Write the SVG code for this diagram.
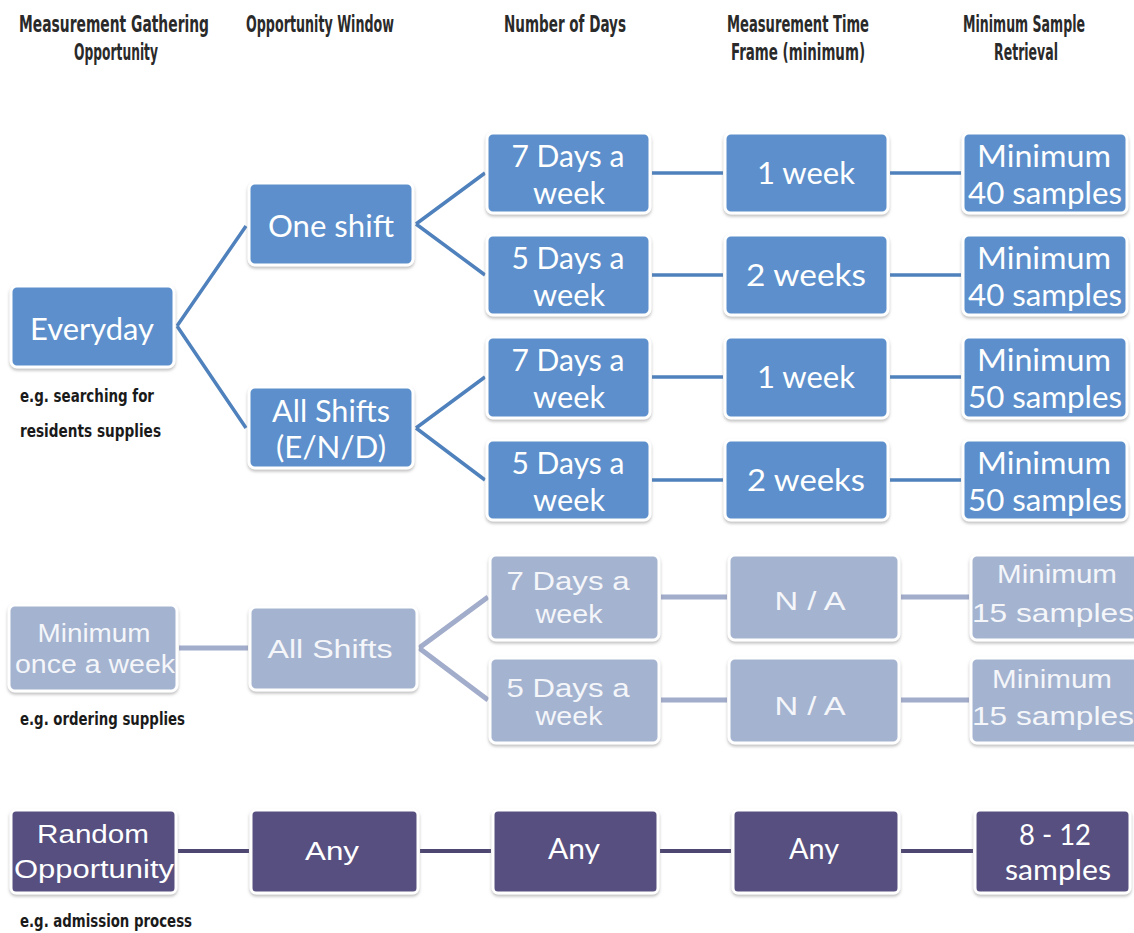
<svg xmlns="http://www.w3.org/2000/svg" width="1134" height="933" viewBox="0 0 1134 933">
<defs>
<filter id="sh" x="-10%" y="-10%" width="120%" height="130%">
<feDropShadow dx="0" dy="2" stdDeviation="1.6" flood-color="#8a8a8a" flood-opacity="0.55"/>
</filter>
<style>
.hd{font-family:"Liberation Sans Narrow","DejaVu Sans Condensed","Liberation Sans",sans-serif;font-stretch:condensed;font-weight:bold;font-size:19px;fill:#2a2a2a;text-anchor:middle}
.cap{font-family:"Liberation Sans Narrow","DejaVu Sans Condensed","Liberation Sans",sans-serif;font-stretch:condensed;font-weight:bold;font-size:15px;fill:#1a1a1a}
.b rect{fill:#5b8fcb;stroke:#ffffff;stroke-width:3;filter:url(#sh)}
.g rect{fill:#a4b3cf;stroke:#ffffff;stroke-width:3;filter:url(#sh)}
.p rect{fill:#57507f;stroke:#ffffff;stroke-width:3;filter:url(#sh)}
.b text{font-family:Lato,"Open Sans",sans-serif;font-size:31px;fill:#ffffff;text-anchor:middle}
.g text{font-family:"Liberation Sans",Arial,sans-serif;font-size:25px;fill:#f4f6fa;text-anchor:middle}
.p text{font-family:"Liberation Sans",Arial,sans-serif;font-size:26px;fill:#ffffff;text-anchor:middle}
.p text.c{font-family:Lato,"Open Sans",sans-serif;font-size:29px}
.lb{stroke:#4f81bd;stroke-width:3.5;fill:none}
.lg{stroke:#a2accb;stroke-width:5;fill:none}
.lp{stroke:#4e4772;stroke-width:4;fill:none}
</style>
</defs>
<rect width="1134" height="933" fill="#ffffff"/>

<g id="headers">
<text class="hd" transform="translate(114,32) scale(1,1.25)" textLength="190" lengthAdjust="spacingAndGlyphs">Measurement Gathering</text>
<text class="hd" transform="translate(116,60) scale(1,1.25)" textLength="84" lengthAdjust="spacingAndGlyphs">Opportunity</text>
<text class="hd" transform="translate(320,32) scale(1,1.25)" textLength="148" lengthAdjust="spacingAndGlyphs">Opportunity Window</text>
<text class="hd" transform="translate(565,32) scale(1,1.25)" textLength="122" lengthAdjust="spacingAndGlyphs">Number of Days</text>
<text class="hd" transform="translate(798,32) scale(1,1.25)" textLength="142" lengthAdjust="spacingAndGlyphs">Measurement Time</text>
<text class="hd" transform="translate(798,60) scale(1,1.25)" textLength="134" lengthAdjust="spacingAndGlyphs">Frame (minimum)</text>
<text class="hd" transform="translate(1024,32) scale(1,1.25)" textLength="122" lengthAdjust="spacingAndGlyphs">Minimum Sample</text>
<text class="hd" transform="translate(1026,60) scale(1,1.25)" textLength="64" lengthAdjust="spacingAndGlyphs">Retrieval</text>
</g>

<g id="captions">
<text class="cap" transform="translate(20,402) scale(1,1.2)" textLength="134" lengthAdjust="spacingAndGlyphs">e.g. searching for</text>
<text class="cap" transform="translate(20,437) scale(1,1.2)" textLength="141" lengthAdjust="spacingAndGlyphs">residents supplies</text>
<text class="cap" transform="translate(20,725) scale(1,1.2)" textLength="165" lengthAdjust="spacingAndGlyphs">e.g. ordering supplies</text>
<text class="cap" transform="translate(20,927) scale(1,1.2)" textLength="172" lengthAdjust="spacingAndGlyphs">e.g. admission process</text>
</g>

<g id="connectors">
<path class="lb" d="M177 326 L246 226 M177 326 L246 428"/>
<path class="lb" d="M416 224 L485 173 M416 224 L485 275"/>
<path class="lb" d="M416 428 L485 377 M416 428 L485 480"/>
<path class="lb" d="M652 173 H723 M890 173 H961"/>
<path class="lb" d="M652 275 H723 M890 275 H961"/>
<path class="lb" d="M652 377 H723 M890 377 H961"/>
<path class="lb" d="M652 480 H723 M890 480 H961"/>
<path class="lg" d="M179 648 H248"/>
<path class="lg" d="M419 648 L488 597 M419 648 L488 700"/>
<path class="lg" d="M661 597 H727 M901 597 H969"/>
<path class="lg" d="M661 700 H727 M901 700 H969"/>
<path class="lp" d="M178 851 H249 M420 851 H491 M660 851 H731 M901 851 H973"/>
</g>

<g id="everyday" class="b"><rect x="11" y="286" width="163" height="81" rx="6"/><text x="92" y="340" textLength="124" lengthAdjust="spacingAndGlyphs">Everyday</text></g>
<g id="one-shift" class="b"><rect x="249" y="183" width="164" height="82" rx="6"/><text x="331" y="237" textLength="126" lengthAdjust="spacingAndGlyphs">One shift</text></g>
<g id="all-shifts-end" class="b"><rect x="249" y="387" width="164" height="81" rx="6"/><text x="331" y="422" textLength="118" lengthAdjust="spacingAndGlyphs">All Shifts</text><text x="331" y="458" textLength="110" lengthAdjust="spacingAndGlyphs">(E/N/D)</text></g>

<g id="days-7a" class="b"><rect x="487" y="133" width="163" height="80" rx="6"/><text x="568" y="167" textLength="113" lengthAdjust="spacingAndGlyphs">7 Days a</text><text x="569" y="204" textLength="72" lengthAdjust="spacingAndGlyphs">week</text></g>
<g id="days-5a" class="b"><rect x="487" y="235" width="163" height="80" rx="6"/><text x="568" y="269" textLength="113" lengthAdjust="spacingAndGlyphs">5 Days a</text><text x="569" y="306" textLength="72" lengthAdjust="spacingAndGlyphs">week</text></g>
<g id="days-7b" class="b"><rect x="487" y="337" width="163" height="81" rx="6"/><text x="568" y="371" textLength="113" lengthAdjust="spacingAndGlyphs">7 Days a</text><text x="569" y="408" textLength="72" lengthAdjust="spacingAndGlyphs">week</text></g>
<g id="days-5b" class="b"><rect x="487" y="440" width="163" height="80" rx="6"/><text x="568" y="474" textLength="113" lengthAdjust="spacingAndGlyphs">5 Days a</text><text x="569" y="511" textLength="72" lengthAdjust="spacingAndGlyphs">week</text></g>

<g id="time-1a" class="b"><rect x="725" y="133" width="163" height="80" rx="6"/><text x="806" y="184" textLength="98" lengthAdjust="spacingAndGlyphs">1 week</text></g>
<g id="time-2a" class="b"><rect x="725" y="235" width="163" height="80" rx="6"/><text x="806" y="286" textLength="120" lengthAdjust="spacingAndGlyphs">2  weeks</text></g>
<g id="time-1b" class="b"><rect x="725" y="337" width="163" height="81" rx="6"/><text x="806" y="388" textLength="98" lengthAdjust="spacingAndGlyphs">1 week</text></g>
<g id="time-2b" class="b"><rect x="725" y="440" width="163" height="80" rx="6"/><text x="806" y="491" textLength="118" lengthAdjust="spacingAndGlyphs">2 weeks</text></g>

<g id="sample-40a" class="b"><rect x="963" y="133" width="164" height="80" rx="6"/><text x="1044" y="167" textLength="134" lengthAdjust="spacingAndGlyphs">Minimum</text><text x="1045" y="204" textLength="154" lengthAdjust="spacingAndGlyphs">40 samples</text></g>
<g id="sample-40b" class="b"><rect x="963" y="235" width="164" height="80" rx="6"/><text x="1044" y="269" textLength="134" lengthAdjust="spacingAndGlyphs">Minimum</text><text x="1045" y="306" textLength="154" lengthAdjust="spacingAndGlyphs">40 samples</text></g>
<g id="sample-50a" class="b"><rect x="963" y="337" width="164" height="81" rx="6"/><text x="1044" y="371" textLength="134" lengthAdjust="spacingAndGlyphs">Minimum</text><text x="1045" y="408" textLength="154" lengthAdjust="spacingAndGlyphs">50 samples</text></g>
<g id="sample-50b" class="b"><rect x="963" y="440" width="164" height="80" rx="6"/><text x="1044" y="474" textLength="134" lengthAdjust="spacingAndGlyphs">Minimum</text><text x="1045" y="511" textLength="154" lengthAdjust="spacingAndGlyphs">50 samples</text></g>

<g id="weekly" class="g"><rect x="9" y="605" width="168" height="86" rx="6"/><text x="94" y="642" textLength="113" lengthAdjust="spacingAndGlyphs">Minimum</text><text x="95" y="673" textLength="160" lengthAdjust="spacingAndGlyphs">once a week</text></g>
<g id="all-shifts" class="g"><rect x="250" y="607" width="167" height="83" rx="6"/><text x="330" y="658" textLength="125" lengthAdjust="spacingAndGlyphs">All Shifts</text></g>
<g id="g-days-7" class="g"><rect x="490" y="555" width="169" height="85" rx="6"/><text x="568" y="590" textLength="123" lengthAdjust="spacingAndGlyphs">7 Days a</text><text x="569" y="623" textLength="67" lengthAdjust="spacingAndGlyphs">week</text></g>
<g id="g-days-5" class="g"><rect x="490" y="658" width="169" height="85" rx="6"/><text x="568" y="697" textLength="123" lengthAdjust="spacingAndGlyphs">5 Days a</text><text x="569" y="725" textLength="67" lengthAdjust="spacingAndGlyphs">week</text></g>
<g id="g-na-1" class="g"><rect x="729" y="555" width="170" height="85" rx="6"/><text x="810" y="610" textLength="71" lengthAdjust="spacingAndGlyphs">N / A</text></g>
<g id="g-na-2" class="g"><rect x="729" y="658" width="170" height="85" rx="6"/><text x="810" y="715" textLength="71" lengthAdjust="spacingAndGlyphs">N / A</text></g>
<g id="g-sample-1" class="g"><rect x="971" y="555" width="170" height="85" rx="6"/><text x="1057" y="583" textLength="120" lengthAdjust="spacingAndGlyphs">Minimum</text><text x="1053" y="622" textLength="162" lengthAdjust="spacingAndGlyphs">15 samples</text></g>
<g id="g-sample-2" class="g"><rect x="971" y="658" width="170" height="85" rx="6"/><text x="1052" y="688" textLength="120" lengthAdjust="spacingAndGlyphs">Minimum</text><text x="1053" y="725" textLength="162" lengthAdjust="spacingAndGlyphs">15 samples</text></g>

<g id="random" class="p"><rect x="11" y="810" width="165" height="83" rx="5"/><text x="93" y="843" textLength="112" lengthAdjust="spacingAndGlyphs">Random</text><text x="94" y="878" textLength="160" lengthAdjust="spacingAndGlyphs">Opportunity</text></g>
<g id="any-window" class="p"><rect x="251" y="810" width="167" height="83" rx="5"/><text x="332" y="860" textLength="54" lengthAdjust="spacingAndGlyphs">Any</text></g>
<g id="any-days" class="p"><rect x="493" y="810" width="165" height="83" rx="5"/><text class="c" x="574" y="859" textLength="52" lengthAdjust="spacingAndGlyphs">Any</text></g>
<g id="any-time" class="p"><rect x="733" y="810" width="166" height="83" rx="5"/><text class="c" x="814" y="859" textLength="50" lengthAdjust="spacingAndGlyphs">Any</text></g>
<g id="samples-8-12" class="p"><rect x="975" y="810" width="155" height="83" rx="5"/><text class="c" x="1055" y="845" textLength="72" lengthAdjust="spacingAndGlyphs">8 - 12</text><text class="c" x="1058" y="880" textLength="106" lengthAdjust="spacingAndGlyphs">samples</text></g>
</svg>
